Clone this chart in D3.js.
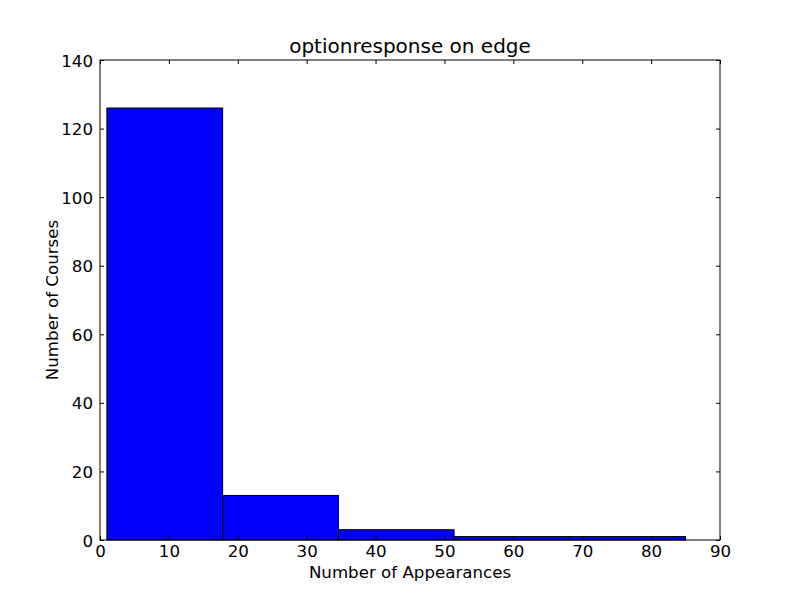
<!DOCTYPE html>
<html><head><meta charset="utf-8">
<script src="https://cdn.jsdelivr.net/npm/d3@7"></script>
<style>body{margin:0;background:#fff}svg{display:block}text{font-family:"DejaVu Sans";fill:#000}</style>
</head><body><svg width="800" height="600"></svg>
<script>
const binEdges = [1, 17.8, 34.6, 51.4, 68.2, 85];
const counts = [126, 13, 3, 1, 1];
const xTicks = [0,10,20,30,40,50,60,70,80,90];
const yTicks = [0,20,40,60,80,100,120,140];
const title = "optionresponse on edge";
const xLabel = "Number of Appearances";
const yLabel = "Number of Courses";

const svg = d3.select("svg");
const L=100,R=720,T=60,B=540;
const x = d3.scaleLinear().domain([0,90]).range([L,R]);
const y = d3.scaleLinear().domain([0,140]).range([B,T]);

const bins = counts.map((c,i)=>({x0:binEdges[i],x1:binEdges[i+1],c}));
svg.selectAll("rect.bar").data(bins).join("rect").attr("class","bar")
  .attr("x",d=>x(d.x0)).attr("width",d=>x(d.x1)-x(d.x0))
  .attr("y",d=>y(d.c)).attr("height",d=>y(0)-y(d.c))
  .attr("fill","#0000ff").attr("stroke","#000").attr("stroke-width",1);

const fs = "16.67px";
const gx = svg.append("g").attr("transform",`translate(0,${B})`)
  .call(d3.axisBottom(x).tickValues(xTicks).tickSizeInner(-4).tickSizeOuter(0).tickPadding(7));
const gxt = svg.append("g").attr("transform",`translate(0,${T})`)
  .call(d3.axisTop(x).tickValues(xTicks).tickSizeInner(-4).tickSizeOuter(0).tickFormat(""));
const gy = svg.append("g").attr("transform",`translate(${L},0)`)
  .call(d3.axisLeft(y).tickValues(yTicks).tickSizeInner(-4).tickSizeOuter(0).tickPadding(7));
const gyr = svg.append("g").attr("transform",`translate(${R},0)`)
  .call(d3.axisRight(y).tickValues(yTicks).tickSizeInner(-4).tickSizeOuter(0).tickFormat(""));
[gx,gxt,gy,gyr].forEach(g=>{
  g.attr("font-size",null).attr("font-family",null);
  g.select(".domain").remove();
  g.selectAll(".tick line").attr("stroke","#000");
  g.selectAll("text").style("font-family","DejaVu Sans").style("font-size",fs).attr("fill","#000");
});
gx.selectAll("text").attr("dy",null).attr("y",null).attr("dominant-baseline","hanging").attr("y",5);
gy.selectAll("text").attr("dy","0.36em");

svg.append("rect").attr("x",L).attr("y",T).attr("width",R-L).attr("height",B-T)
  .attr("fill","none").attr("stroke","#000").attr("stroke-width",1);

svg.append("text").attr("x",(L+R)/2).attr("y",T-7).attr("text-anchor","middle")
  .style("font-size","20px").text(title);
svg.append("text").attr("x",(L+R)/2).attr("y",578).attr("text-anchor","middle")
  .style("font-size",fs).text(xLabel);
svg.append("text").attr("transform",`translate(58,${(T+B)/2}) rotate(-90)`).attr("text-anchor","middle")
  .style("font-size",fs).text(yLabel);
</script></body></html>
